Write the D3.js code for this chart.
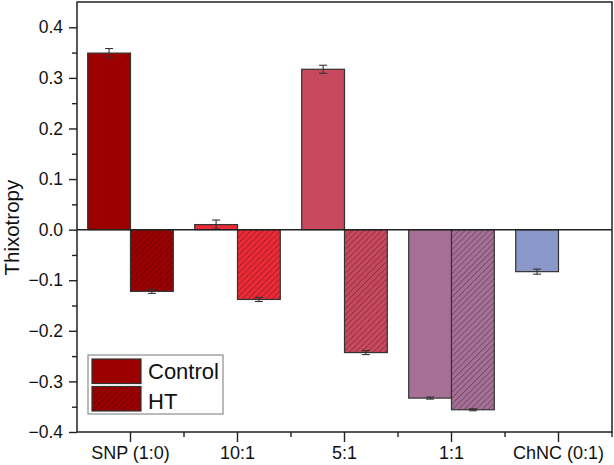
<!DOCTYPE html>
<html><head><meta charset="utf-8">
<script src="https://cdn.jsdelivr.net/npm/d3@7"></script>
<style>body{margin:0;background:#fff}svg{display:block;font-family:"Liberation Sans",Arial,sans-serif}</style>
</head><body><svg id="c" width="614" height="465"></svg>
<script>
const categories = ["SNP (1:0)", "10:1", "5:1", "1:1", "ChNC (0:1)"];
const series = ["Control", "HT"];
const control = [0.349, 0.010, 0.317, -0.333, -0.083];
const controlErr = [0.009, 0.009, 0.008, 0.002, 0.005];
const ht = [-0.122, -0.138, -0.243, -0.356, null];
const htErr = [0.004, 0.004, 0.004, 0.002, null];
const colors = ["#9c0000", "#ec2a36", "#c8485e", "#a66f95", "#8998c8"];
const yTicks = [-0.4, -0.3, -0.2, -0.1, 0.0, 0.1, 0.2, 0.3, 0.4];

const svg = d3.select("#c");
const m = {l: 77, r: 2, t: 2, b: 33};
const W = 614, H = 465;
const x = d3.scaleBand().domain(categories).range([m.l, W - m.r]).padding(0);
const xs = d3.scaleBand().domain(series).range([x.bandwidth() * 0.1, x.bandwidth() * 0.9]).padding(0);
const y = d3.scaleLinear().domain([-0.4, 0.45]).range([H - m.b, m.t]);

const defs = svg.append("defs");
colors.forEach((c, i) => {
  const p = defs.append("pattern").attr("id", "h" + i).attr("patternUnits", "userSpaceOnUse")
    .attr("width", 4.2).attr("height", 4.2).attr("patternTransform", "rotate(45)");
  p.append("rect").attr("width", 4.2).attr("height", 4.2).attr("fill", c);
  p.append("line").attr("x1", 0).attr("y1", 0).attr("x2", 0).attr("y2", 4.2)
    .attr("stroke", "#111").attr("stroke-width", 1).attr("stroke-opacity", 0.6);
});

const rows = [];
categories.forEach((c, i) => {
  rows.push({cat: c, s: "Control", v: control[i], e: controlErr[i], i});
  if (ht[i] !== null) rows.push({cat: c, s: "HT", v: ht[i], e: htErr[i], i});
});

const g = svg.append("g");
g.selectAll("rect.bar").data(rows).join("rect").attr("class", "bar")
  .attr("x", d => x(d.cat) + xs(d.s))
  .attr("width", xs.bandwidth())
  .attr("y", d => y(Math.max(0, d.v)))
  .attr("height", d => Math.abs(y(d.v) - y(0)))
  .attr("fill", d => d.s === "HT" ? `url(#h${d.i})` : colors[d.i])
  .attr("stroke", "#333").attr("stroke-width", 1.2);

// error bars
const eb = g.selectAll("g.eb").data(rows).join("g").attr("class", "eb")
  .attr("stroke", "#333").attr("stroke-width", 1.1);
eb.append("line")
  .attr("x1", d => x(d.cat) + xs(d.s) + xs.bandwidth() / 2)
  .attr("x2", d => x(d.cat) + xs(d.s) + xs.bandwidth() / 2)
  .attr("y1", d => y(d.v - d.e)).attr("y2", d => y(d.v + d.e));
[-1, 1].forEach(k => {
  eb.append("line")
    .attr("x1", d => x(d.cat) + xs(d.s) + xs.bandwidth() / 2 - 4)
    .attr("x2", d => x(d.cat) + xs(d.s) + xs.bandwidth() / 2 + 4)
    .attr("y1", d => y(d.v + k * d.e)).attr("y2", d => y(d.v + k * d.e));
});

// zero line
svg.append("line").attr("x1", m.l).attr("x2", W - m.r).attr("y1", y(0)).attr("y2", y(0))
  .attr("stroke", "#222").attr("stroke-width", 1.5);

// frame
svg.append("rect").attr("x", m.l).attr("y", m.t).attr("width", W - m.r - m.l).attr("height", H - m.b - m.t)
  .attr("fill", "none").attr("stroke", "#222").attr("stroke-width", 1.5);

// y axis
const ya = svg.append("g").attr("transform", `translate(${m.l},0)`)
  .call(d3.axisLeft(y).tickValues(yTicks).tickFormat(d3.format(".1f")).tickSize(8).tickPadding(6));
ya.select(".domain").remove();
ya.selectAll(".tick line").attr("stroke", "#222").attr("stroke-width", 1.4);
ya.selectAll("text").attr("font-size", 17.5).attr("fill", "#111").attr("font-family", "Liberation Sans, Arial, sans-serif");
const yMinor = yTicks.slice(0, -1).map(v => v + 0.05);
svg.append("g").attr("transform", `translate(${m.l},0)`)
  .call(d3.axisLeft(y).tickValues(yMinor).tickSize(5).tickFormat(""))
  .call(s => s.select(".domain").remove())
  .selectAll("line").attr("stroke", "#222").attr("stroke-width", 1.4);

// x axis
const xa = svg.append("g").attr("transform", `translate(0,${H - m.b})`)
  .call(d3.axisBottom(x).tickSize(10).tickPadding(4));
xa.select(".domain").remove();
xa.selectAll(".tick line").attr("stroke", "#222").attr("stroke-width", 1.4);
xa.selectAll("text").attr("font-size", 18).attr("fill", "#111").attr("font-family", "Liberation Sans, Arial, sans-serif");
const bounds = categories.slice(1).map(c => x(c)).concat([W - m.r]);
svg.append("g").selectAll("line").data(bounds).join("line")
  .attr("x1", d => d).attr("x2", d => d).attr("y1", H - m.b).attr("y2", H - m.b + 5)
  .attr("stroke", "#222").attr("stroke-width", 1.4);

// y title
svg.append("text").attr("transform", `translate(19,${y(0) - 2}) rotate(-90)`)
  .attr("text-anchor", "middle").attr("font-size", 20.5).attr("fill", "#111").text("Thixotropy");

// legend
const lg = svg.append("g").attr("transform", "translate(88,355)");
lg.append("rect").attr("width", 135).attr("height", 59).attr("fill", "#fff").attr("stroke", "#777").attr("stroke-width", 1);
series.forEach((s, i) => {
  lg.append("rect").attr("x", 4).attr("y", 4 + i * 27.5).attr("width", 49).attr("height", 24.5)
    .attr("fill", i === 0 ? colors[0] : "url(#h0)").attr("stroke", "#333").attr("stroke-width", 1.2);
  lg.append("text").attr("x", 60).attr("y", 24 + i * 29.5).attr("font-size", 22).attr("fill", "#111").text(s);
});
</script></body></html>
